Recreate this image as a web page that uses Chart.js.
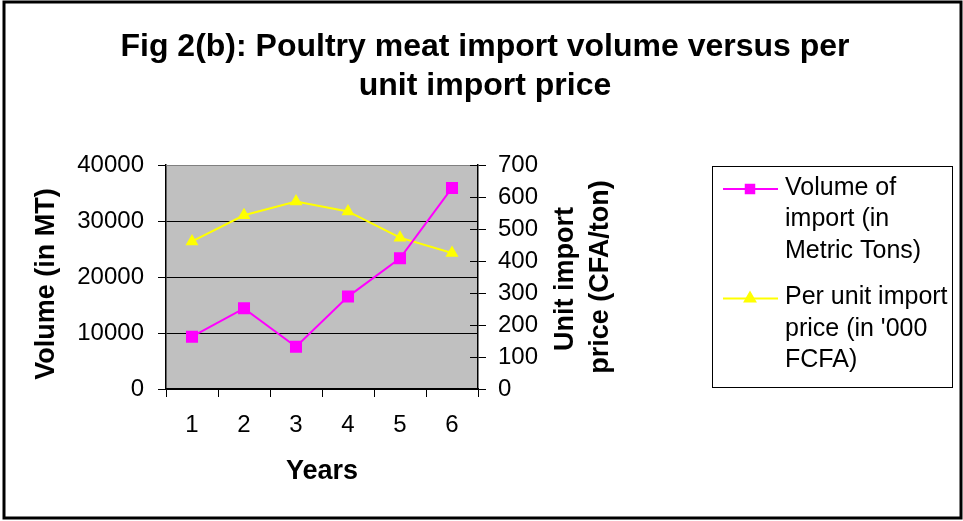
<!DOCTYPE html>
<html>
<head>
<meta charset="utf-8">
<script src="https://cdn.jsdelivr.net/npm/chart.js@4.4.1/dist/chart.umd.min.js"></script>
<style>
  html, body { margin: 0; padding: 0; background: #fff; }
  #wrap { width: 963px; height: 521px; }
</style>
</head>
<body>
<div id="wrap"><canvas id="chart" width="963" height="521"></canvas></div>
<script>
// data
const years = ['1', '2', '3', '4', '5', '6'];
const volumeImport = [9350, 14400, 7550, 16500, 23350, 35900];
const unitPrice = [461, 543, 586, 555, 473, 425];
const volumeLabel = 'Volume of import (in Metric Tons)';
const priceLabel = "Per unit import price (in '000 FCFA)";
const titleLines = ['Fig 2(b): Poultry meat import volume versus per', 'unit import price'];

const FONT = "'Liberation Sans', Arial, sans-serif";
Chart.defaults.font.family = FONT;
Chart.defaults.color = '#000';

function wrapText(ctx, text, maxW) {
    const words = text.split(' ');
    const lines = [];
    let cur = '';
    words.forEach(w => {
        const test = cur ? cur + ' ' + w : w;
        if (ctx.measureText(test).width > maxW && cur) {
            lines.push(cur);
            cur = w;
        } else {
            cur = test;
        }
    });
    if (cur) lines.push(cur);
    return lines;
}

// gray plot background, frame, titles, legend
const decor = {
    id: 'decor',
    beforeDraw(chart) {
        const { ctx, chartArea: a } = chart;
        ctx.save();
        ctx.fillStyle = '#c0c0c0';
        ctx.fillRect(a.left, a.top, a.right - a.left, a.bottom - a.top);
        ctx.restore();
    },
    afterDraw(chart) {
        const { ctx, chartArea: a } = chart;
        ctx.save();

        // plot border top
        ctx.strokeStyle = '#808080';
        ctx.lineWidth = 1;
        ctx.beginPath();
        ctx.moveTo(a.left, a.top + 0.5);
        ctx.lineTo(a.right, a.top + 0.5);
        ctx.stroke();

        // right axis ticks reach into the plot too
        const y1 = chart.scales.y1;
        ctx.strokeStyle = '#000';
        y1.ticks.forEach(t => {
            const py = Math.round(y1.getPixelForValue(t.value)) + 0.5;
            ctx.beginPath();
            ctx.moveTo(a.right - 8, py);
            ctx.lineTo(a.right, py);
            ctx.stroke();
        });

        // outer frame
        ctx.lineWidth = 3;
        ctx.strokeStyle = '#000';
        ctx.strokeRect(4, 2, 957, 516);

        // title
        ctx.fillStyle = '#000';
        ctx.textAlign = 'center';
        ctx.textBaseline = 'middle';
        ctx.font = 'bold 32px ' + FONT;
        ctx.fillText(titleLines[0], 485, 47);
        ctx.fillText(titleLines[1], 485, 86);

        // axis titles
        ctx.font = 'bold 27px ' + FONT;
        ctx.fillText('Years', (a.left + a.right) / 2, 472);
        ctx.save();
        ctx.translate(47, 284);
        ctx.rotate(-Math.PI / 2);
        ctx.fillText('Volume (in MT)', 0, 0);
        ctx.restore();
        ctx.save();
        ctx.translate(566, 279);
        ctx.rotate(-Math.PI / 2);
        ctx.fillText('Unit import', 0, 0);
        ctx.restore();
        ctx.save();
        ctx.translate(601, 277);
        ctx.rotate(-Math.PI / 2);
        ctx.fillText('price (CFA/ton)', 0, 0);
        ctx.restore();

        // legend
        ctx.fillStyle = '#fff';
        ctx.fillRect(712, 166, 241, 222);
        ctx.lineWidth = 1;
        ctx.strokeStyle = '#000';
        ctx.strokeRect(712.5, 166.5, 240, 221);

        ctx.font = '25px ' + FONT;
        ctx.textAlign = 'left';
        let y = 188;
        chart.data.datasets.forEach(ds => {
            const lines = wrapText(ctx, ds.label, 172);
            ctx.strokeStyle = ds.borderColor;
            ctx.lineWidth = 2;
            ctx.beginPath();
            ctx.moveTo(723, y + 1);
            ctx.lineTo(778, y + 1);
            ctx.stroke();
            Chart.helpers.drawPoint(ctx, {
                pointStyle: ds.pointStyle,
                radius: 6,
                borderWidth: 1
            }, 750, y + 1);
            ctx.fillStyle = ds.borderColor;
            ctx.fill();
            ctx.fillStyle = '#000';
            lines.forEach((ln, i) => ctx.fillText(ln, 785, y + i * 31.5));
            y += lines.length * 31.5 + 15;
        });

        ctx.restore();
    }
};

new Chart(document.getElementById('chart'), {
    type: 'line',
    data: {
        labels: years,
        datasets: [
            {
                label: volumeLabel,
                data: volumeImport,
                yAxisID: 'y',
                borderColor: '#ff00ff',
                backgroundColor: '#ff00ff',
                borderWidth: 2,
                pointStyle: 'rect',
                pointRadius: 8.5,
                pointBorderWidth: 0,
                tension: 0
            },
            {
                label: priceLabel,
                data: unitPrice,
                yAxisID: 'y1',
                borderColor: '#ffff00',
                backgroundColor: '#ffff00',
                borderWidth: 2,
                pointStyle: 'triangle',
                pointRadius: 7.5,
                pointBorderWidth: 0,
                tension: 0
            }
        ]
    },
    options: {
        responsive: false,
        animation: false,
        layout: { padding: { left: 0, right: 0, top: 165, bottom: 0 } },
        plugins: {
            legend: { display: false },
            title: { display: false },
            tooltip: { enabled: false }
        },
        scales: {
            x: {
                offset: true,
                grid: { offset: true, drawOnChartArea: false, color: '#000', tickLength: 8 },
                border: { color: '#000', width: 1.5 },
                ticks: { font: { size: 24 }, padding: 14, color: '#000' },
                afterFit(s) { s.height = 132; }
            },
            y: {
                position: 'left',
                min: 0,
                max: 40000,
                ticks: {
                    stepSize: 10000,
                    font: { size: 24 },
                    padding: 14,
                    color: '#000',
                    callback: v => String(v)
                },
                grid: {
                    color: ctx => (ctx.tick && ctx.tick.value === 40000) ? '#808080' : '#000',
                    tickColor: '#000',
                    tickLength: 8
                },
                border: { color: '#000', width: 1.5 },
                afterFit(s) { s.width = 166; }
            },
            y1: {
                position: 'right',
                min: 0,
                max: 700,
                ticks: { stepSize: 100, font: { size: 24 }, padding: 12, color: '#000' },
                grid: { drawOnChartArea: false, color: '#000', tickLength: 8 },
                border: { color: '#000', width: 1.5 },
                afterFit(s) { s.width = 485; }
            }
        }
    },
    plugins: [decor]
});
</script>
</body>
</html>
